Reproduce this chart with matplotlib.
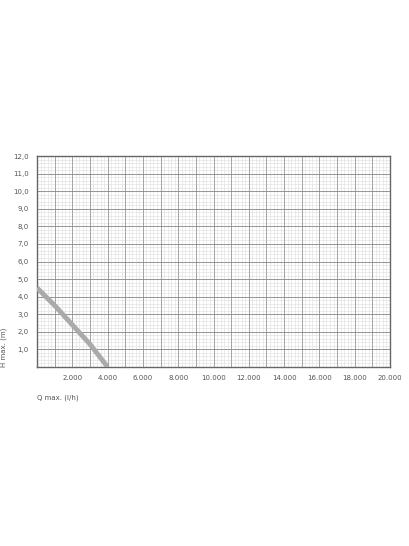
import matplotlib
matplotlib.use("Agg")
import matplotlib.pyplot as plt
import numpy as np

q = [0, 1000, 2000, 3000, 4000]
h = [4.5, 3.5, 2.4, 1.3, 0.0]
xticks = [2000, 4000, 6000, 8000, 10000, 12000, 14000, 16000, 18000, 20000]
xlabels = ["2.000", "4.000", "6.000", "8.000", "10.000", "12.000", "14.000", "16.000", "18.000", "20.000"]
yticks = [1, 2, 3, 4, 5, 6, 7, 8, 9, 10, 11, 12]
ylabels = ["1,0", "2,0", "3,0", "4,0", "5,0", "6,0", "7,0", "8,0", "9,0", "10,0", "11,0", "12,0"]

fig = plt.figure(figsize=(4.09, 5.46), dpi=100)
ax = fig.add_axes([37/409, 1-367/546, 353/409, 211/546])
ax.set_xlim(0, 20000)
ax.set_ylim(0, 12)
for x in np.arange(0, 20001, 200):
    ax.axvline(x, color="#dddddd", lw=0.4, zorder=0)
for y in np.arange(0, 12.01, 0.2):
    ax.axhline(y, color="#dddddd", lw=0.4, zorder=0)
for x in np.arange(0, 20001, 1000):
    ax.axvline(x, color="#999999", lw=0.6, zorder=1)
for y in np.arange(0, 12.01, 1):
    ax.axhline(y, color="#888888", lw=0.6, zorder=1)
ax.plot(q, h, color="#aaaaaa", lw=3.5, solid_capstyle="butt", zorder=3)
ax.set_xticks(xticks)
ax.set_xticklabels(xlabels)
ax.set_yticks(yticks)
ax.set_yticklabels(ylabels)
ax.tick_params(length=0, labelsize=5, colors="#555555", pad=6)
for s in ax.spines.values():
    s.set_color("#666666"); s.set_linewidth(1.0)
ax.set_ylabel("H max. (m)", fontsize=5, color="#555555", loc="bottom")
ax.text(0, -0.13, "Q max. (l/h)", transform=ax.transAxes, fontsize=5, color="#555555", va="top")
fig.savefig("out.png", dpi=100)
